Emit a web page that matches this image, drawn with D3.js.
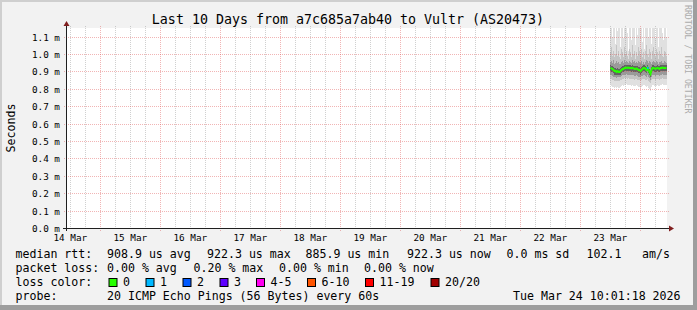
<!DOCTYPE html>
<html>
<head>
<meta charset="utf-8">
<script src="https://cdn.jsdelivr.net/npm/d3@7"></script>
<style>
  html, body { margin: 0; padding: 0; background: #f2f2f2; }
  svg { display: block; }
  text { font-family: "DejaVu Sans Mono", monospace; fill: #000; white-space: pre; }
</style>
</head>
<body>
<svg id="chart" width="697" height="310"></svg>
<script>
// one column per consolidated step (24 min), values in ms
var sampleStart = new Date(2026, 2, 23, 11, 52);
var stepMinutes = 24;

var rttMedian = [
  0.920, 0.917, 0.914, 0.908, 0.902, 0.902, 0.897, 0.902, 0.897, 0.897,
  0.902, 0.908, 0.914, 0.914, 0.920, 0.920, 0.922, 0.920, 0.922, 0.920,
  0.920, 0.917, 0.920, 0.917, 0.914, 0.914, 0.917, 0.914, 0.908, 0.908,
  0.902, 0.908, 0.914, 0.920, 0.920, 0.914, 0.908, 0.920, 0.908, 0.897,
  0.886, 0.908, 0.920, 0.920, 0.917, 0.914, 0.917, 0.920, 0.917, 0.914,
  0.920, 0.920, 0.922, 0.920, 0.920, 0.920, 0.920];
var lossPings = [
  0, 0, 0, 0, 0, 0, 0, 0, 0, 0,
  0, 0, 0, 0, 0, 0, 0, 0, 0, 0,
  0, 0, 0, 0, 0, 0, 0, 0, 0, 0,
  0, 0, 0, 0, 0, 0, 0, 1, 0, 0,
  0, 0, 0, 0, 0, 0, 0, 0, 0, 0,
  0, 0, 0, 0, 0, 0, 0];

// smoke: sorted ping values per column (max, 17th, 14th, 12th / 8th, 6th, 3rd, min)
var rttMax = [
  1.16, 1.16, 1.10, 1.16, 1.16, 1.06, 1.16, 1.13, 1.16, 1.16,
  1.04, 1.16, 1.16, 1.09, 1.16, 1.16, 1.16, 1.12, 1.02, 1.16,
  1.16, 1.08, 1.16, 1.16, 1.16, 1.05, 1.16, 1.11, 1.16, 1.16,
  1.16, 1.16, 1.07, 1.16, 1.03, 1.16, 1.16, 1.16, 1.10, 1.16,
  1.16, 1.06, 1.16, 1.16, 1.16, 1.09, 1.16, 1.16, 1.04, 1.16,
  1.16, 1.16, 1.12, 1.08, 1.16, 1.16, 1.10];
var rttP17 = [
  1.01, 1.04, 0.99, 1.02, 0.98, 1.00, 1.05, 0.99, 1.02, 0.98,
  0.97, 1.03, 1.01, 0.98, 1.04, 1.00, 1.02, 0.99, 0.97, 1.03,
  1.01, 0.98, 1.05, 1.00, 1.02, 0.97, 1.01, 0.99, 1.04, 1.02,
  1.00, 1.03, 0.98, 1.01, 0.97, 1.02, 1.05, 1.00, 0.98, 1.03,
  1.01, 0.97, 1.02, 1.04, 1.00, 0.98, 1.03, 1.01, 0.97, 1.02,
  1.00, 1.04, 0.99, 0.98, 1.02, 1.01, 0.99];
var rttP14 = [
  0.955, 0.960, 0.950, 0.965, 0.945, 0.950, 0.960, 0.950, 0.955, 0.945,
  0.945, 0.955, 0.960, 0.950, 0.965, 0.955, 0.960, 0.955, 0.950, 0.960,
  0.955, 0.950, 0.965, 0.955, 0.960, 0.950, 0.955, 0.950, 0.960, 0.955,
  0.950, 0.960, 0.945, 0.955, 0.945, 0.955, 0.965, 0.960, 0.950, 0.960,
  0.955, 0.945, 0.955, 0.960, 0.955, 0.950, 0.960, 0.955, 0.945, 0.955,
  0.955, 0.960, 0.950, 0.950, 0.960, 0.955, 0.950];
var rttP12 = [
  0.935, 0.932, 0.930, 0.925, 0.920, 0.920, 0.915, 0.920, 0.915, 0.915,
  0.920, 0.925, 0.930, 0.930, 0.935, 0.935, 0.937, 0.935, 0.937, 0.935,
  0.935, 0.932, 0.935, 0.932, 0.930, 0.930, 0.932, 0.930, 0.925, 0.925,
  0.920, 0.925, 0.930, 0.935, 0.935, 0.930, 0.925, 0.935, 0.925, 0.915,
  0.905, 0.925, 0.935, 0.935, 0.932, 0.930, 0.932, 0.935, 0.932, 0.930,
  0.935, 0.935, 0.937, 0.935, 0.935, 0.935, 0.935];
var rttP8 = [
  0.900, 0.897, 0.894, 0.888, 0.882, 0.882, 0.877, 0.882, 0.877, 0.877,
  0.882, 0.888, 0.894, 0.894, 0.900, 0.900, 0.902, 0.900, 0.902, 0.900,
  0.900, 0.897, 0.900, 0.897, 0.894, 0.894, 0.897, 0.894, 0.888, 0.888,
  0.882, 0.888, 0.894, 0.900, 0.900, 0.894, 0.888, 0.900, 0.888, 0.877,
  0.866, 0.888, 0.900, 0.900, 0.897, 0.894, 0.897, 0.900, 0.897, 0.894,
  0.900, 0.900, 0.902, 0.900, 0.900, 0.900, 0.900];
var rttP6 = [
  0.880, 0.878, 0.875, 0.870, 0.866, 0.868, 0.864, 0.868, 0.865, 0.866,
  0.870, 0.874, 0.878, 0.878, 0.882, 0.880, 0.883, 0.880, 0.882, 0.880,
  0.880, 0.878, 0.881, 0.877, 0.875, 0.876, 0.878, 0.874, 0.870, 0.870,
  0.866, 0.871, 0.876, 0.881, 0.880, 0.875, 0.870, 0.878, 0.868, 0.860,
  0.852, 0.870, 0.880, 0.881, 0.878, 0.875, 0.878, 0.880, 0.877, 0.875,
  0.880, 0.881, 0.883, 0.880, 0.880, 0.881, 0.880];
var rttP3 = [
  0.858, 0.855, 0.852, 0.848, 0.845, 0.846, 0.842, 0.846, 0.843, 0.844,
  0.848, 0.852, 0.855, 0.856, 0.860, 0.858, 0.860, 0.857, 0.860, 0.858,
  0.858, 0.855, 0.858, 0.855, 0.853, 0.854, 0.856, 0.852, 0.848, 0.848,
  0.845, 0.849, 0.854, 0.858, 0.857, 0.853, 0.848, 0.856, 0.846, 0.840,
  0.832, 0.848, 0.857, 0.858, 0.856, 0.853, 0.856, 0.858, 0.855, 0.853,
  0.858, 0.858, 0.861, 0.858, 0.858, 0.858, 0.858];
var rttMin = [
  0.825, 0.818, 0.812, 0.808, 0.805, 0.810, 0.802, 0.808, 0.804, 0.806,
  0.810, 0.815, 0.820, 0.818, 0.824, 0.822, 0.826, 0.820, 0.824, 0.821,
  0.822, 0.817, 0.823, 0.818, 0.815, 0.816, 0.820, 0.814, 0.809, 0.810,
  0.805, 0.811, 0.816, 0.822, 0.820, 0.814, 0.808, 0.818, 0.806, 0.798,
  0.790, 0.808, 0.820, 0.822, 0.818, 0.814, 0.818, 0.822, 0.817, 0.814,
  0.821, 0.822, 0.826, 0.820, 0.821, 0.822, 0.820];

var dayLabels = ["14 Mar", "15 Mar", "16 Mar", "17 Mar", "18 Mar",
                 "19 Mar", "20 Mar", "21 Mar", "22 Mar", "23 Mar"];
var yTicks = [0.0, 0.1, 0.2, 0.3, 0.4, 0.5, 0.6, 0.7, 0.8, 0.9, 1.0, 1.1];
var yTickLabels = ["0.0 m", "0.1 m", "0.2 m", "0.3 m", "0.4 m", "0.5 m",
                   "0.6 m", "0.7 m", "0.8 m", "0.9 m", "1.0 m", "1.1 m"];

var lossLabels = ["0", "1", "2", "3", "4-5", "6-10", "11-19", "20/20"];
var lossColors = ["#26ff00", "#00b8ff", "#0059ff", "#5e00ff",
                  "#ff00f0", "#ff5500", "#ff0000", "#a10000"];

var rttStats = ["908.9 us avg", "922.3 us max", "885.9 us min", "922.3 us now",
                "0.0 ms sd", "102.1", "am/s"];
var lossStats = ["0.00 % avg", "0.20 % max", "0.00 % min", "0.00 % now"];
var probeText = "20 ICMP Echo Pings (56 Bytes) every 60s";
var stampText = "Tue Mar 24 10:01:18 2026";
var titleText = "Last 10 Days from a7c685a7ab40 to Vultr (AS20473)";

// ---- layout ----
var W = 697, H = 310;
var plotL = 67, plotR = 667, plotT = 28, plotB = 228;

var svg = d3.select("#chart");

var x = d3.scaleTime()
    .domain([new Date(2026, 2, 14, 10, 40), new Date(2026, 2, 24, 10, 40)])
    .range([plotL, plotR]);
var y = d3.scaleLinear()
    .domain([0, 200 / 174])
    .range([plotB, plotT]);

function colTime(i) { return new Date(sampleStart.getTime() + i * stepMinutes * 60000); }
function lossIndex(p) {
    if (p <= 3) return p;
    if (p <= 5) return 4;
    if (p <= 10) return 5;
    if (p <= 19) return 6;
    return 7;
}

// frame
svg.append("rect").attr("width", W).attr("height", H).attr("fill", "#f2f2f2");
svg.append("rect").attr("width", W).attr("height", 2).attr("fill", "#cfcfcf");
svg.append("rect").attr("width", 2).attr("height", H).attr("fill", "#cfcfcf");
svg.append("rect").attr("x", W - 4).attr("width", 4).attr("height", H).attr("fill", "#9e9e9e");
svg.append("rect").attr("y", H - 5).attr("width", W).attr("height", 5).attr("fill", "#9e9e9e");

svg.append("rect")
    .attr("x", plotL).attr("y", plotT)
    .attr("width", plotR - plotL).attr("height", plotB - plotT)
    .attr("fill", "#fff");

svg.append("clipPath").attr("id", "plotclip")
  .append("rect")
    .attr("x", plotL).attr("y", plotT)
    .attr("width", plotR - plotL).attr("height", plotB - plotT);

// smoke, outer bands first
var bands = [
    [rttMin, rttMax, "#e0e0e0"],
    [rttP3, rttP17, "#c4c4c4"],
    [rttP6, rttP14, "#9a9a9a"],
    [rttP8, rttP12, "#626262"]
];
var smoke = svg.append("g").attr("clip-path", "url(#plotclip)");
bands.forEach(function (b) {
    smoke.append("g").selectAll("rect")
        .data(rttMedian)
        .enter().append("rect")
        .attr("x", function (d, i) { return x(colTime(i)); })
        .attr("width", function (d, i) { return x(colTime(i + 1)) - x(colTime(i)); })
        .attr("y", function (d, i) { return y(b[1][i]); })
        .attr("height", function (d, i) { return y(b[0][i]) - y(b[1][i]); })
        .attr("fill", b[2])
        .attr("shape-rendering", "crispEdges");
});

// grid
var grid = svg.append("g").attr("shape-rendering", "crispEdges");
var domain = x.domain();
var minorTimes = d3.timeHour.every(6).range(domain[0], domain[1]).filter(function (t) { return t.getHours() !== 0; });
var majorTimes = d3.timeDay.range(domain[0], domain[1]);
var minorCol = "rgba(143,143,143,0.42)", majorCol = "rgba(222,79,79,0.42)";

grid.selectAll(".vminor").data(minorTimes).enter().append("line")
    .attr("x1", function (d) { return Math.round(x(d)) + 0.5; })
    .attr("x2", function (d) { return Math.round(x(d)) + 0.5; })
    .attr("y1", plotT - 2).attr("y2", plotB + 2)
    .attr("stroke", minorCol).attr("stroke-dasharray", "1,1");
grid.selectAll(".vmajor").data(majorTimes).enter().append("line")
    .attr("x1", function (d) { return Math.round(x(d)) + 0.5; })
    .attr("x2", function (d) { return Math.round(x(d)) + 0.5; })
    .attr("y1", plotT - 2).attr("y2", plotB + 3)
    .attr("stroke", majorCol).attr("stroke-dasharray", "1,1");
grid.selectAll(".hmajor").data(yTicks.slice(1)).enter().append("line")
    .attr("x1", plotL - 3).attr("x2", plotR + 2)
    .attr("y1", function (d) { return Math.round(y(d)) + 0.5; })
    .attr("y2", function (d) { return Math.round(y(d)) + 0.5; })
    .attr("stroke", majorCol).attr("stroke-dasharray", "1,1");

// median, coloured by loss
var pts = rttMedian.map(function (v, i) {
    return [x(colTime(i)) + 0.5, y(v), lossIndex(lossPings[i])];
});
svg.append("path")
    .attr("d", d3.line()(pts.map(function (p) { return [p[0], p[1]]; })))
    .attr("fill", "none")
    .attr("stroke", lossColors[0])
    .attr("stroke-width", 2)
    .attr("clip-path", "url(#plotclip)");
pts.forEach(function (p) {
    if (p[2] === 0) return;
    svg.append("line")
        .attr("x1", p[0] - 0.5).attr("x2", p[0] + 1)
        .attr("y1", p[1]).attr("y2", p[1])
        .attr("stroke", lossColors[p[2]]).attr("stroke-width", 2);
});

// axes
svg.append("line")
    .attr("x1", plotL - 0.5).attr("x2", plotL - 0.5)
    .attr("y1", plotB + 3).attr("y2", plotT - 4)
    .attr("stroke", "#1f1f1f");
svg.append("line")
    .attr("x1", plotL - 4).attr("x2", plotR + 4)
    .attr("y1", plotB + 0.5).attr("y2", plotB + 0.5)
    .attr("stroke", "#1f1f1f");
svg.append("path")
    .attr("d", "M" + (plotL - 3.5) + "," + (plotT - 2) + "L" + (plotL + 2.5) + "," + (plotT - 2) + "L" + (plotL - 0.5) + "," + (plotT - 7) + "Z")
    .attr("fill", "#801f1f");
svg.append("path")
    .attr("d", "M" + (plotR + 2) + "," + (plotB - 2.5) + "L" + (plotR + 2) + "," + (plotB + 3.5) + "L" + (plotR + 7) + "," + (plotB + 0.5) + "Z")
    .attr("fill", "#801f1f");

// tick labels
svg.selectAll(".ylab").data(yTicks).enter().append("text")
    .attr("x", 60)
    .attr("y", function (d) { return Math.round(y(d)) + 3.5; })
    .attr("text-anchor", "end")
    .style("font-size", "9.33px")
    .text(function (d, i) { return yTickLabels[i]; });

svg.selectAll(".xlab").data(dayLabels).enter().append("text")
    .attr("x", function (d, i) { return x(new Date(2026, 2, 14 + i, 12)); })
    .attr("y", 241)
    .attr("text-anchor", "middle")
    .style("font-size", "9.33px")
    .text(function (d) { return d; });

// title, unit, watermark
svg.append("text")
    .attr("x", 348).attr("y", 24)
    .attr("text-anchor", "middle")
    .style("font-size", "13.3px")
    .text(titleText);
svg.append("text")
    .attr("transform", "translate(15,128) rotate(-90)")
    .attr("text-anchor", "middle")
    .style("font-size", "11.6px")
    .text("Seconds");
svg.append("text")
    .attr("transform", "translate(684.5,5) rotate(90)")
    .style("font-size", "8.2px")
    .style("fill", "#acacac")
    .text("RRDTOOL / TOBI OETIKER");

// legend
var legend = svg.append("g").style("font-size", "11.6px");
function legendText(xp, yp, s) {
    legend.append("text").attr("x", xp).attr("y", yp).text(s);
}
var rttCols = [107, 207, 305.5, 407, 506.5, 586.5, 642];
legendText(15.5, 258, "median rtt:");
rttStats.forEach(function (s, i) { legendText(rttCols[i], 258, s); });

var lossCols = [107, 193.5, 279, 364];
legendText(15.5, 272, "packet loss:");
lossStats.forEach(function (s, i) { legendText(lossCols[i], 272, s); });

var boxCols = [108.5, 145.5, 182.5, 219.5, 256, 307, 365, 430.5];
legendText(15.5, 286, "loss color:");
lossLabels.forEach(function (s, i) {
    legend.append("rect")
        .attr("x", boxCols[i] + 0.5).attr("y", 278.5)
        .attr("width", 8).attr("height", 8)
        .attr("fill", lossColors[i]).attr("stroke", "#000");
    legendText(boxCols[i] + 14.5, 286, s);
});

legendText(15.5, 300, "probe:");
legendText(107, 300, probeText);
legendText(513, 300, stampText);
</script>
</body>
</html>
